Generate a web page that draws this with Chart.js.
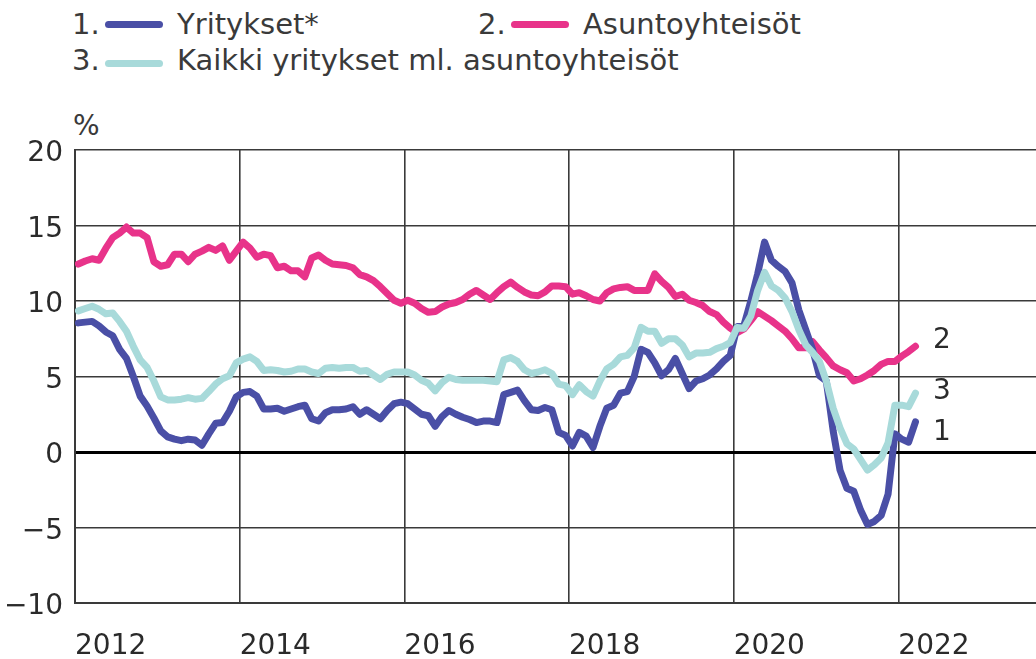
<!DOCTYPE html>
<html>
<head>
  <meta charset="utf-8">
  <title>Yritysten lainakanta</title>
  <script src="https://cdn.jsdelivr.net/npm/chart.js"></script>
  <style>
    html, body { margin: 0; padding: 0; background: #fff; overflow: hidden; width: 1036px; height: 659px; }
    #wrap { position: absolute; left: 0; top: 0; width: 1090px; height: 659px; }
    .lg { position: absolute; font-family: "DejaVu Sans", sans-serif; font-size: 29px; line-height: 29px; color: #3a3a3a; white-space: nowrap; }
    .sw { position: absolute; height: 7px; border-radius: 4px; }
  </style>
</head>
<body>
  <div class="lg" style="left:72px; top:10px">1.</div>
  <div class="sw" style="left:105px; top:21px; width:58px; background:#4a4fa6"></div>
  <div class="lg" style="left:177px; top:10px">Yritykset*</div>
  <div class="lg" style="left:478px; top:10px">2.</div>
  <div class="sw" style="left:511px; top:21px; width:58px; background:#e8338a"></div>
  <div class="lg" style="left:583px; top:10px">Asuntoyhteisöt</div>
  <div class="lg" style="left:72px; top:46px">3.</div>
  <div class="sw" style="left:105px; top:60px; width:58px; background:#a8dada"></div>
  <div class="lg" style="left:177px; top:46px">Kaikki yritykset ml. asuntoyhteisöt</div>
  <div class="lg" style="left:73px; top:111px; font-size:28px">%</div>
  <div id="wrap"><canvas id="myChart" width="1090" height="659"></canvas></div>
  <script>
    // monthly observations, Jan 2012 .. Mar 2022
    var startYear = 2012;

    var yritykset = [
      8.55, 8.6, 8.65, 8.35, 7.95, 7.7, 6.8, 6.2, 5.0, 3.7, 3.05, 2.25,
      1.4, 1.0, 0.85, 0.75, 0.85, 0.8, 0.45, 1.2, 1.9, 1.95, 2.7, 3.65,
      3.95, 4.0, 3.7, 2.85, 2.85, 2.9, 2.7, 2.85, 3.0, 3.1, 2.2, 2.05,
      2.6, 2.8, 2.8, 2.85, 3.0, 2.5, 2.8, 2.5, 2.2, 2.75, 3.2, 3.3,
      3.2, 2.85, 2.5, 2.4, 1.7, 2.35, 2.75, 2.5, 2.3, 2.15, 1.95, 2.05,
      2.05, 1.95, 3.8, 3.95, 4.1, 3.4, 2.8, 2.75, 2.95, 2.8, 1.3, 1.1,
      0.4, 1.3, 1.05, 0.3, 1.7, 2.9, 3.1, 3.9, 4.0, 5.0, 6.8, 6.6,
      5.9, 5.05, 5.45, 6.2, 5.2, 4.2, 4.7, 4.85, 5.1, 5.5, 6.0, 6.4,
      8.3, 8.4, 10.0, 11.8, 13.9, 12.7, 12.3, 11.95, 11.2, 9.4, 8.1, 6.8,
      5.05, 4.7, 1.4, -1.2, -2.4, -2.6, -3.85, -4.8, -4.6, -4.2, -2.8, 1.2,
      0.85, 0.65, 2.0
    ];

    var asuntoyhteisot = [
      12.45, 12.65, 12.8, 12.7, 13.5, 14.2, 14.5, 14.9, 14.5, 14.5, 14.2, 12.6,
      12.3, 12.4, 13.1, 13.1, 12.6, 13.1, 13.3, 13.55, 13.35, 13.65, 12.7, 13.3,
      13.9, 13.5, 12.9, 13.1, 13.0, 12.2, 12.3, 12.0, 12.0, 11.6, 12.85, 13.05,
      12.7, 12.45, 12.4, 12.35, 12.2, 11.75, 11.6, 11.35, 10.95, 10.5, 10.05, 9.85,
      10.05, 9.85, 9.5, 9.25, 9.3, 9.6, 9.8, 9.9, 10.1, 10.45, 10.7, 10.4,
      10.1, 10.55, 10.95, 11.25, 10.9, 10.6, 10.4, 10.35, 10.6, 11.0, 11.0, 10.95,
      10.45, 10.55, 10.35, 10.1, 10.0, 10.55, 10.8, 10.9, 10.95, 10.7, 10.7, 10.7,
      11.8, 11.3, 10.9, 10.3, 10.45, 10.05, 9.9, 9.7, 9.3, 9.1, 8.6, 8.2,
      7.9, 8.15, 8.7, 9.3, 9.0, 8.7, 8.35, 8.0, 7.5, 6.9, 6.9, 7.3,
      6.75, 6.25, 5.7, 5.45, 5.25, 4.7, 4.85, 5.1, 5.4, 5.8, 6.0, 6.0,
      6.35, 6.65, 7.0
    ];

    var kaikki = [
      9.35, 9.5, 9.65, 9.45, 9.15, 9.2, 8.65, 8.0, 7.0, 6.1, 5.6, 4.7,
      3.65, 3.45, 3.45, 3.5, 3.6, 3.5, 3.55, 4.0, 4.5, 4.85, 5.05, 5.9,
      6.15, 6.3, 6.0, 5.4, 5.45, 5.4, 5.3, 5.35, 5.5, 5.5, 5.3, 5.2,
      5.55, 5.6, 5.55, 5.6, 5.6, 5.35, 5.4, 5.1, 4.8, 5.15, 5.3, 5.3,
      5.3, 5.1, 4.75, 4.55, 4.05, 4.6, 4.95, 4.8, 4.75, 4.75, 4.75, 4.75,
      4.7, 4.65, 6.1, 6.25, 6.0, 5.45, 5.2, 5.3, 5.45, 5.2, 4.5, 4.4,
      3.8, 4.45, 4.0, 3.7, 4.7, 5.5, 5.8, 6.3, 6.4, 6.9, 8.25, 8.0,
      8.0, 7.2, 7.5, 7.5, 7.1, 6.3, 6.55, 6.55, 6.6, 6.85, 7.0, 7.25,
      8.25, 8.2, 9.0, 10.7, 11.9, 11.0, 10.7, 10.2, 9.3, 8.1, 7.1, 6.6,
      6.0, 4.7, 2.9, 1.6, 0.55, 0.2, -0.5, -1.2, -0.85, -0.4, 0.6, 3.1,
      3.1, 3.0, 3.9
    ];

    // series numbers written next to the line ends
    var endLabels = ['1', '2', '3'];
    var endLabelValues = [1.3, 7.4, 4.0];
    var endLabelYear = 2022.42;

    var yTicks = [-10, -5, 0, 5, 10, 15, 20];
    var xTicks = [2012, 2014, 2016, 2018, 2020, 2022];

    function toPoints(arr) {
      return arr.map(function (v, i) {
        return { x: startYear + (i + 0.5) / 12, y: v };
      });
    }

    var endLabelPlugin = {
      id: 'endLabels',
      afterDatasetsDraw: function (chart) {
        var ctx = chart.ctx;
        var xs = chart.scales.x, ys = chart.scales.y;
        ctx.save();
        ctx.font = '28px "DejaVu Sans"';
        ctx.fillStyle = '#2a2a2a';
        ctx.textAlign = 'left';
        ctx.textBaseline = 'middle';
        endLabels.forEach(function (t, i) {
          ctx.fillText(t, xs.getPixelForValue(endLabelYear), ys.getPixelForValue(endLabelValues[i]));
        });
        ctx.restore();
      }
    };

    var ctx = document.getElementById('myChart').getContext('2d');
    var chart = new Chart(ctx, {
      type: 'line',
      data: {
        datasets: [
          {
            label: 'Kaikki yritykset ml. asuntoyhteisöt',
            data: toPoints(kaikki),
            borderColor: '#a8dada',
            order: 0
          },
          {
            label: 'Yritykset*',
            data: toPoints(yritykset),
            borderColor: '#4a4fa6',
            order: 1
          },
          {
            label: 'Asuntoyhteisöt',
            data: toPoints(asuntoyhteisot),
            borderColor: '#e8338a',
            order: 2
          }
        ]
      },
      options: {
        responsive: false,
        animation: false,
        layout: { padding: { top: 150, right: 27, left: 0, bottom: 0 } },
        elements: {
          point: { radius: 0 },
          line: { borderWidth: 7, tension: 0, borderJoinStyle: 'round', borderCapStyle: 'round' }
        },
        plugins: { legend: { display: false }, tooltip: { enabled: false } },
        scales: {
          x: {
            type: 'linear',
            min: 2012,
            max: 2024,
            afterFit: function (s) { s.height = 56; },
            afterBuildTicks: function (s) {
              s.ticks = [2012, 2014, 2016, 2018, 2020, 2022, 2024].map(function (v) { return { value: v }; });
            },
            grid: { color: '#3a3a3a', lineWidth: 1.6, drawTicks: false },
            border: { color: '#3a3a3a', width: 2 },
            ticks: {
              align: 'start',
              padding: 27,
              color: '#2a2a2a',
              font: { family: 'DejaVu Sans', size: 28 },
              callback: function (v) { return xTicks.indexOf(v) >= 0 ? String(v) : ''; }
            }
          },
          y: {
            min: -10,
            max: 20,
            afterFit: function (s) { s.width = 75; },
            afterBuildTicks: function (s) {
              s.ticks = yTicks.map(function (v) { return { value: v }; });
            },
            grid: {
              drawTicks: false,
              color: function (c) { return c.tick && c.tick.value === 0 ? '#000' : '#3a3a3a'; },
              lineWidth: function (c) { return c.tick && c.tick.value === 0 ? 3 : 1.6; }
            },
            border: { color: '#3a3a3a', width: 2 },
            ticks: {
              padding: 12,
              labelOffset: 4,
              color: '#2a2a2a',
              font: { family: 'DejaVu Sans', size: 28 },
              callback: function (v) { return v < 0 ? '\u2212' + Math.abs(v) : String(v); }
            }
          }
        }
      },
      plugins: [endLabelPlugin]
    });
  </script>
</body>
</html>
